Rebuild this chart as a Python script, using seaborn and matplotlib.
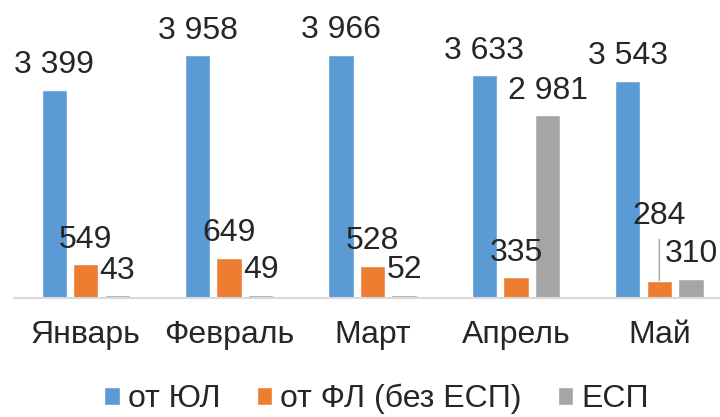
import pandas as pd
import matplotlib.pyplot as plt
import seaborn as sns

months = ['Январь', 'Февраль', 'Март', 'Апрель', 'Май']
series = ['от ЮЛ', 'от ФЛ (без ЕСП)', 'ЕСП']
ul = [3399, 3958, 3966, 3633, 3543]
fl = [549, 649, 528, 335, 284]
esp = [43, 49, 52, 2981, 310]
colors = ['#5B9BD5', '#ED7D31', '#A5A5A5']

df = pd.DataFrame({
    'month': months * 3,
    'series': [series[0]] * 5 + [series[1]] * 5 + [series[2]] * 5,
    'value': ul + fl + esp,
})

sns.set_style('white')
plt.rcParams['font.family'] = ['Liberation Sans', 'DejaVu Sans']

fig = plt.figure(figsize=(7.2, 4.17), dpi=100)
ax = fig.add_axes([0.0194, 0.2854, 0.996, 0.7146])

sns.barplot(data=df, x='month', y='value', hue='series', palette=colors,
            saturation=1, width=0.66, gap=0.2, ax=ax, legend=True)

ax.set_xlim(-0.5, 4.5)
ax.set_ylim(0, 4861)
ax.set_xlabel('')
ax.set_ylabel('')
ax.set_yticks([])
ax.tick_params(axis='x', length=0, labelsize=23, pad=16)
for s in ['top', 'right', 'left']:
    ax.spines[s].set_visible(False)
ax.spines['bottom'].set_color('#D9D9D9')
ax.spines['bottom'].set_linewidth(1.5)

def fmt(v):
    return f'{v:,}'.replace(',', ' ')

for i, cont in enumerate(ax.containers):
    vals = [ul, fl, esp][i]
    labels = [fmt(v) for v in vals]
    if i == 1:
        labels[4] = ''
    ax.bar_label(cont, labels=labels, fontsize=23, padding=7)

# May orange label lifted with leader line
bar = ax.containers[1][4]
bx = bar.get_x() + bar.get_width() / 2
by = bar.get_height()
ax.annotate(fmt(fl[4]), xy=(bx, by), xytext=(0, 36), textcoords='offset points',
            ha='center', va='bottom', fontsize=23,
            arrowprops=dict(arrowstyle='-', color='#A5A5A5', lw=1, shrinkA=4, shrinkB=0))

handles, lbls = ax.get_legend_handles_labels()
ax.legend(handles, lbls, loc='center', bbox_to_anchor=(0.523, 0.043),
          bbox_transform=fig.transFigure, ncol=3, frameon=False, fontsize=23,
          handlelength=0.48, handleheight=0.48, handletextpad=0.26, columnspacing=1.13,
          borderpad=0, borderaxespad=0)

fig.savefig('out.png', dpi=100)
